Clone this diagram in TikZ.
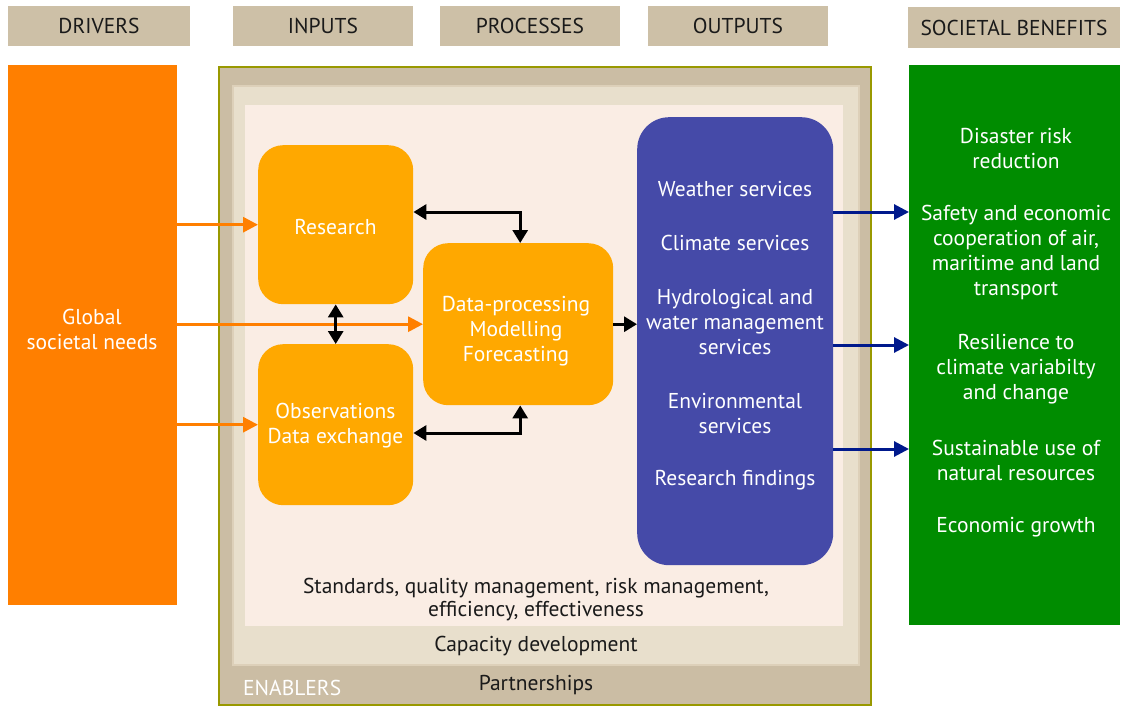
\documentclass[tikz,border=0pt]{standalone}
\usepackage{fontspec}
\setmainfont{PT Sans}
\usetikzlibrary{arrows.meta}
\definecolor{hdr}{HTML}{CDC0A7}
\definecolor{drv}{HTML}{FF7F00}
\definecolor{ben}{HTML}{008C00}
\definecolor{enOut}{HTML}{CBBDA4}
\definecolor{enMid}{HTML}{E8DFCC}
\definecolor{enMidB}{HTML}{DDD0B9}
\definecolor{enIn}{HTML}{FAEDE4}
\definecolor{olive}{HTML}{999900}
\definecolor{proc}{HTML}{FFA800}
\definecolor{outp}{HTML}{454AA8}
\definecolor{navy}{HTML}{00198C}
\definecolor{txt}{HTML}{1A1A1A}
\tikzset{
  hdrbox/.style={fill=hdr, inner sep=0pt, text=txt, font=\fontsize{21.5}{25}\selectfont},
  box/.style={inner sep=0pt, anchor=north west},
  wtxt/.style={text=white, align=center, font=\fontsize{21.5}{25}\selectfont},
  btxt/.style={text=txt, align=center, font=\fontsize{21.5}{23}\selectfont},
  orarrow/.style={draw=drv, line width=3pt, -{Triangle[length=15pt,width=15pt]}},
  blarrow/.style={draw=black, line width=3pt, {Triangle[length=13pt,width=15pt]}-{Triangle[length=13pt,width=15pt]}},
  bkarrow/.style={draw=black, line width=3pt, -{Triangle[length=13pt,width=15pt]}},
  nvarrow/.style={draw=navy, line width=3pt, -{Triangle[length=15pt,width=15pt]}},
}
\begin{document}
\begin{tikzpicture}[x=1pt,y=-1pt]
\useasboundingbox (0,0) rectangle (1122,706);
% headers
\node[hdrbox, minimum width=182pt, minimum height=40pt] (hd) at (99,26) {\raisebox{-1.5pt}{DRIVERS}};
\node[hdrbox, minimum width=180pt, minimum height=40pt] (hi) at (323,26) {\raisebox{-1.5pt}{INPUTS}};
\node[hdrbox, minimum width=180pt, minimum height=40pt] (hp) at (530,26) {\raisebox{-1.5pt}{PROCESSES}};
\node[hdrbox, minimum width=180pt, minimum height=40pt] (ho) at (738,26) {\raisebox{-1.5pt}{OUTPUTS}};
\node[hdrbox, minimum width=212pt, minimum height=41pt] (hs) at (1014,27.5) {\raisebox{-1pt}{SOCIETAL BENEFITS}};
% drivers / benefits
\node[box, fill=drv, minimum width=169pt, minimum height=540pt] (drv) at (8,65) {};
\node[wtxt] (drvt) at (92,329.5) {Global\\societal needs};
\node[box, fill=ben, minimum width=211pt, minimum height=560pt] (ben) at (909,65) {};
\node[wtxt] (b1) at (1016,148.5) {Disaster risk\\reduction};
\node[wtxt] (b2) at (1016,252.5) {Safety and economic\\cooperation of air,\\maritime and land\\transport};
\node[wtxt] (b3) at (1016,369) {Resilience to\\climate variabilty\\and change};
\node[wtxt] (b4) at (1016,460.5) {Sustainable use of\\natural resources};
\node[wtxt] (b5) at (1016,527) {Economic growth};
% enablers
\node[box, fill=enOut, draw=olive, line width=2pt, minimum width=652pt, minimum height=638pt] (en) at (218,66) {};
\node[box, fill=enMid, draw=enMidB, line width=2pt, minimum width=626pt, minimum height=579pt] (cap) at (232,85) {};
\node[box, fill=enIn, minimum width=598pt, minimum height=521pt] (inn) at (245,105) {};
\node[btxt] (std) at (536,599.5) {Standards, quality management, risk management,\\efficiency, effectiveness};
\node[btxt] (capt) at (536,646) {Capacity development};
\node[btxt] (part) at (536,685) {Partnerships};
\node[text=white, font=\fontsize{21.5}{25}\selectfont, anchor=west, inner sep=0pt] (enl) at (243,688) {ENABLERS};
% process boxes
\node[box, fill=proc, rounded corners=25pt, minimum width=155pt, minimum height=159pt] (res) at (258,145) {};
\node[wtxt] at (335.5,227) {Research};
\node[box, fill=proc, rounded corners=25pt, minimum width=155pt, minimum height=161pt] (obs) at (258,344) {};
\node[wtxt] at (335.5,425.5) {Observations\\Data exchange};
\node[box, fill=proc, rounded corners=25pt, minimum width=190pt, minimum height=162pt] (dp) at (423,243) {};
\node[wtxt] at (516,331) {Data-processing\\Modelling\\Forecasting};
\node[box, fill=outp, rounded corners=32pt, minimum width=196pt, minimum height=448pt] (out) at (637,117) {};
\node[wtxt] at (735,189) {Weather services};
\node[wtxt] at (735,243) {Climate services};
\node[wtxt] at (735,322) {Hydrological and\\water management\\services};
\node[wtxt] at (735,413.5) {Environmental\\services};
\node[wtxt] at (735,480) {Research findings};
% arrows
\draw[orarrow] (drv.east |- res.west) -- (res.west);
\draw[orarrow] (drv.east |- dp.west) -- (dp.west);
\draw[orarrow] (drv.east |- obs.west) -- (obs.west);
\draw[blarrow] (res.south) -- (obs.north);
\draw[blarrow] (res.east |- 0,212) -| ([xshift=2pt]dp.north);
\draw[blarrow] (obs.east |- 0,433) -| ([xshift=2pt]dp.south);
\draw[bkarrow] (dp.east) -- (out.west |- dp.east);
\draw[nvarrow] (out.east |- 0,212) -- (ben.west |- 0,212);
\draw[nvarrow] (out.east |- 0,345) -- (ben.west |- 0,345);
\draw[nvarrow] (out.east |- 0,449) -- (ben.west |- 0,449);
\end{tikzpicture}
\end{document}
